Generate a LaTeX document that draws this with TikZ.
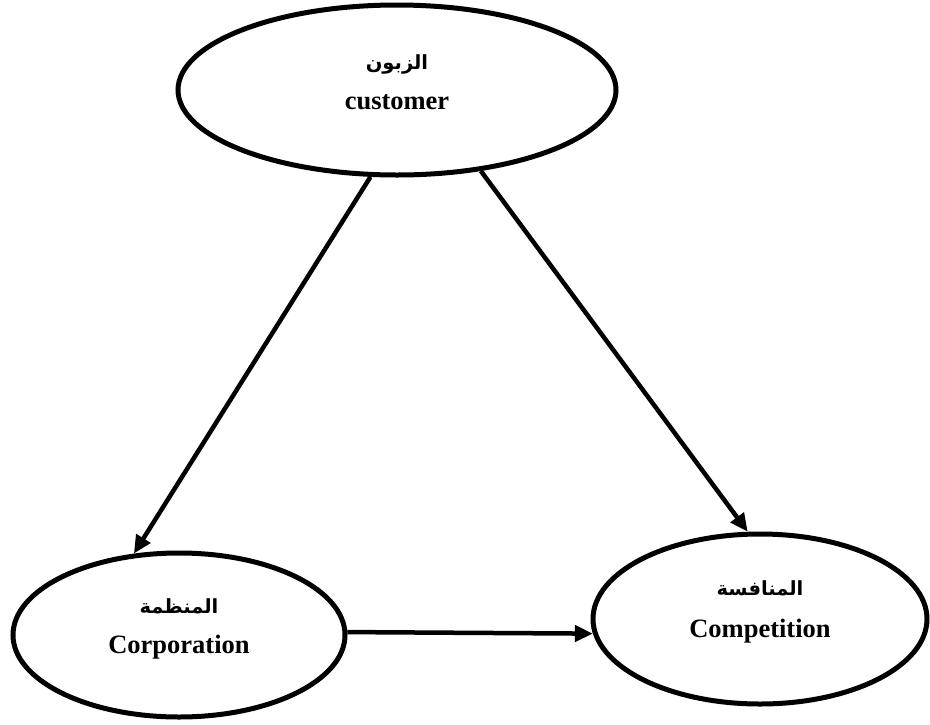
\documentclass[tikz,border=0pt]{standalone}
\usepackage{fontspec}
\setmainfont{Liberation Serif}
\newfontfamily\arabicfont[Script=Arabic]{DejaVu Sans}
\TeXXeTstate=1
\usetikzlibrary{shapes.geometric,arrows.meta}
\begin{document}
\begin{tikzpicture}[x=1pt,y=-1pt,
  oval/.style={ellipse,draw,line width=5pt,inner sep=0pt},
  lat/.style={font=\fontsize{26.5}{30}\selectfont\bfseries},
  arb/.style={font=\arabicfont\fontsize{19.5}{22}\selectfont\bfseries},
  link/.style={line width=4.5pt,-{Triangle[length=18pt,width=16pt]}}]
\useasboundingbox (0,0) rectangle (930,724);
% the three parties
\node[oval,minimum width=438pt,minimum height=170pt] (cust) at (397,90) {};
\node[oval,minimum width=332pt,minimum height=164pt] (corp) at (179,635) {};
\node[oval,minimum width=334pt,minimum height=170pt] (comp) at (760,619) {};
% labels
\node[arb] (custar) at (397,64) {\beginR الزبون\endR};
\node[lat] (custen) at (397,102) {customer};
\node[arb] (corpar) at (179,606) {\beginR المنظمة\endR};
\node[lat] (corpen) at (179,647) {Corporation};
\node[arb] (compar) at (760,588) {\beginR المنافسة\endR};
\node[lat] (compen) at (760,631) {Competition};
% relations
\draw[link] (cust.253) -- (corp.119);
\draw[link] (cust.316) -- (comp.98);
\draw[link] (corp.1) -- (comp.185);
\end{tikzpicture}
\end{document}
